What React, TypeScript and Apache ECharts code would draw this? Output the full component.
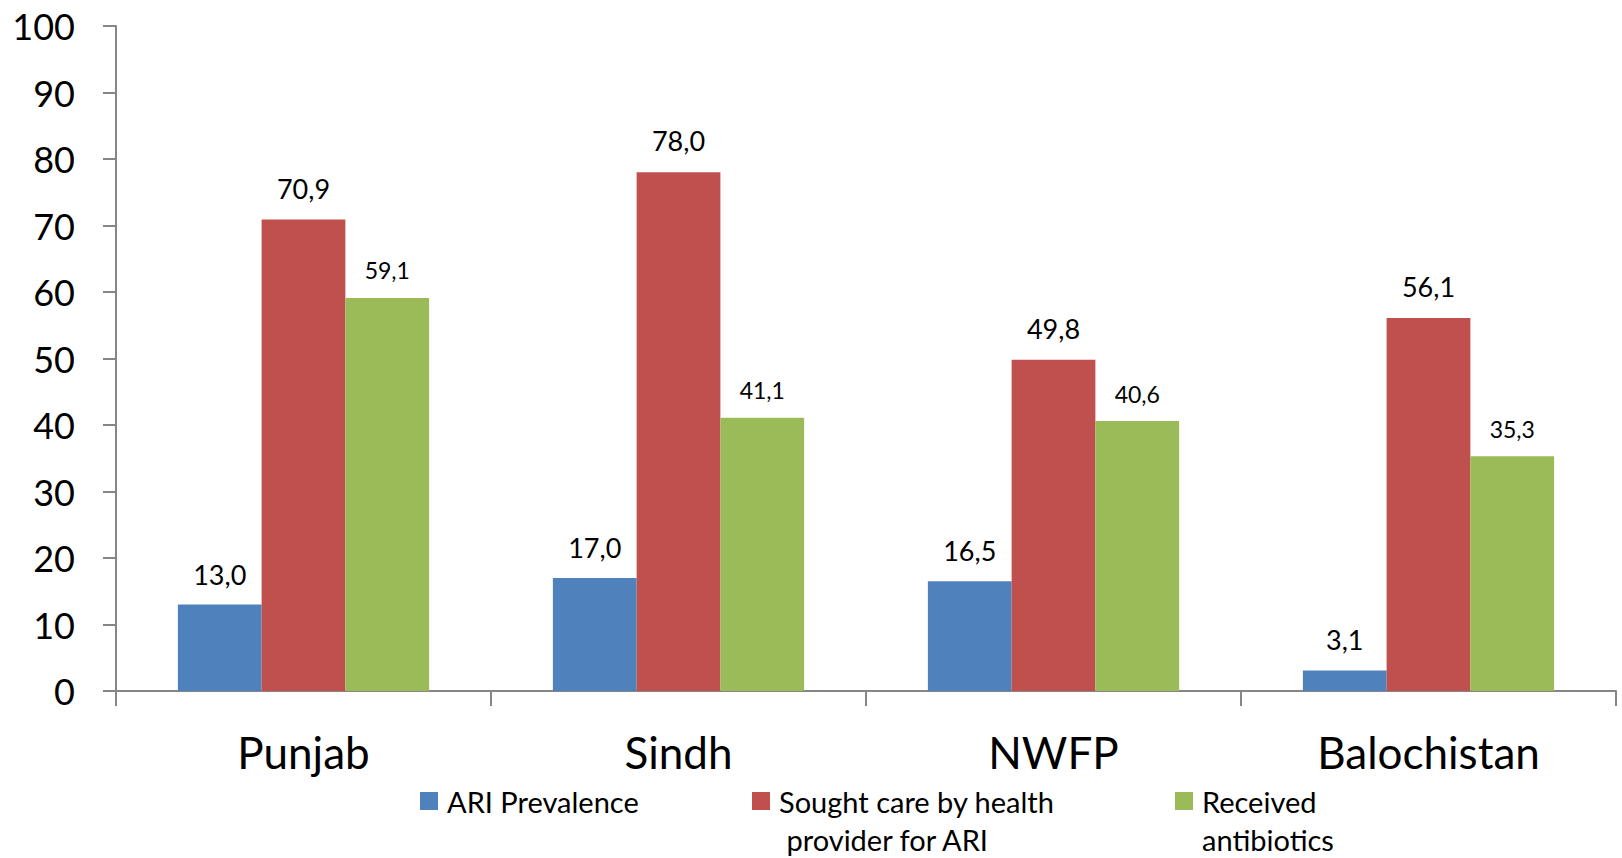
import React, { useEffect, useRef } from "react";
import * as echarts from "echarts";

const categories = ["Punjab", "Sindh", "NWFP", "Balochistan"];
const ariPrevalence = [13.0, 17.0, 16.5, 3.1];
const soughtCare = [70.9, 78.0, 49.8, 56.1];
const antibiotics = [59.1, 41.1, 40.6, 35.3];
const seriesNames = ["ARI Prevalence", "Sought care by health provider for ARI", "Received antibiotics"];
const legendLabels = ["ARI Prevalence", "\nSought care by health\n provider for ARI", "\nReceived\nantibiotics"];
const colors = ["#4F81BD", "#C0504D", "#9BBB59"];

const FONT = "Lato, 'Noto Sans', sans-serif";

const fmt = (p: any) => Number(p.value).toFixed(1).replace(".", ",");

export default function App() {
  const ref = useRef<HTMLDivElement>(null);
  useEffect(() => {
    if (!ref.current) return;
    const chart = echarts.init(ref.current, null, { renderer: "svg" });
    const mkLegend = (i: number, left: number, top: number) => ({
      show: true,
      data: [seriesNames[i]],
      formatter: () => legendLabels[i],
      left,
      top,
      padding: 0,
      itemWidth: 18,
      itemHeight: 18,
      icon: "rect",
      selectedMode: false,
      textStyle: {
        fontFamily: FONT,
        fontSize: 29,
        color: "#000",
        lineHeight: 38,
        padding: [0, 0, 0, 4],
      },
    });
    const mkSeries = (i: number, data: number[], labelSize: number, dist: number) => ({
      name: seriesNames[i],
      type: "bar",
      data,
      barGap: "0%",
      barCategoryGap: "33%",
      itemStyle: { color: colors[i] },
      label: {
        show: true,
        position: "top",
        distance: dist,
        formatter: fmt,
        fontFamily: FONT,
        fontSize: labelSize,
        color: "#000",
      },
    });
    chart.setOption({
      animation: false,
      backgroundColor: "#fff",
      grid: { left: 116, right: 6, top: 26, bottom: 167, containLabel: false },
      legend: [
        mkLegend(0, 420, 782),
        mkLegend(1, 752, 744),
        mkLegend(2, 1175, 744),
      ],
      xAxis: {
        type: "category",
        data: categories,
        axisLine: { show: true, lineStyle: { color: "#868686", width: 2 } },
        axisTick: { show: true, length: 15, lineStyle: { color: "#868686", width: 2 } },
        axisLabel: { fontFamily: FONT, fontSize: 44, color: "#000", margin: 39 },
      },
      yAxis: {
        type: "value",
        min: 0,
        max: 100,
        interval: 10,
        splitLine: { show: false },
        axisLine: { show: true, lineStyle: { color: "#868686", width: 2 } },
        axisTick: { show: true, length: 13, inside: false, lineStyle: { color: "#868686", width: 2 } },
        axisLabel: { fontFamily: FONT, fontSize: 36, color: "#000", margin: 41 },
      },
      series: [
        mkSeries(0, ariPrevalence, 27, 17),
        mkSeries(1, soughtCare, 27, 18),
        mkSeries(2, antibiotics, 23, 16),
      ],
    });
    return () => chart.dispose();
  }, []);
  return <div ref={ref} style={{ width: 1622, height: 858, position: "absolute", left: 0, top: 0 }} />;
}
